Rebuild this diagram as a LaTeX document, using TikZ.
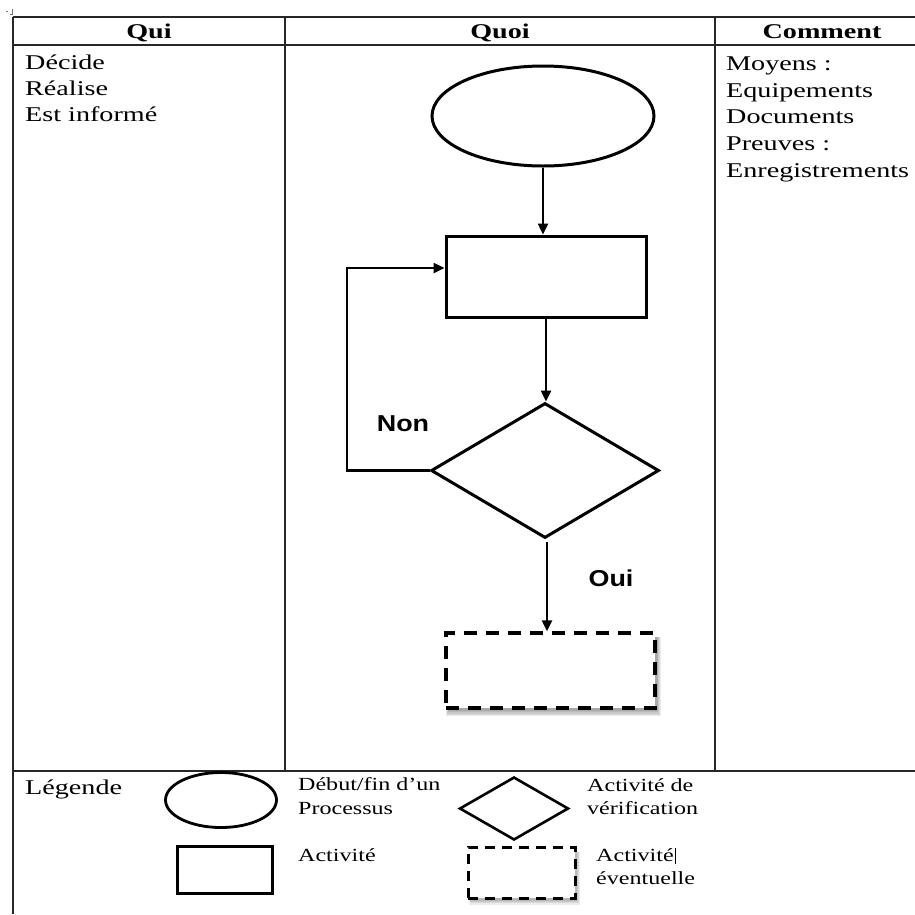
\documentclass[tikz,border=0pt]{standalone}
\usepackage{fontspec}
\usetikzlibrary{shapes.geometric,arrows.meta,calc,backgrounds}
\newfontfamily\cellfont[FakeStretch=1.34]{Liberation Serif}
\newfontfamily\legfont[FakeStretch=1.3]{Liberation Serif}
\newfontfamily\flowfont[FakeStretch=1.17]{Liberation Sans}
\begin{document}
\begin{tikzpicture}[x=1pt,y=-1pt,
  rule/.style={draw=black!85, line width=1.6pt},
  outline/.style={draw=black, line width=3pt, inner sep=0pt, fill=white},
  startend/.style={outline, ellipse},
  activity/.style={outline, rectangle},
  check/.style={outline, diamond},
  optional/.style={outline, rectangle, line width=3.5pt, dash pattern=on 13pt off 9pt},
  link/.style={draw=black, line width=2.4pt, -{Triangle[length=11pt,width=10pt]}},
  head/.style={inner sep=0pt, anchor=base, font=\cellfont\bfseries\fontsize{21}{24}\selectfont},
  cell/.style={inner sep=0pt, anchor=base west, font=\cellfont\fontsize{21}{24}\selectfont},
  legtext/.style={inner sep=0pt, anchor=base west, font=\legfont\fontsize{18.5}{22}\selectfont},
  answer/.style={inner sep=0pt, anchor=base, font=\flowfont\bfseries\fontsize{23}{26}\selectfont}
]
\useasboundingbox (0,0) rectangle (915,914);

% small handle mark in the corner
\draw[black!55, line width=0.8pt] (6,11) -- (8,11) (12,9) -- (12,14) -- (10,14);

% table rules
\draw[rule] (13,17) -- (915,17);
\draw[rule] (13,45) -- (915,45);
\draw[rule] (13,771) -- (915,771);
\draw[rule] (13,17) -- (13,914);
\draw[rule] (285,17) -- (285,771);
\draw[rule] (715,17) -- (715,771);

% column headers
\node[head] (hqui) at (149,38) {Qui};
\node[head] (hquoi) at (500,38) {Quoi};
\node[head] (hcomment) at (822,38) {Comment};

% left column
\node[cell] (decide) at (25,69) {Décide};
\node[cell] (realise) at (25,95) {Réalise};
\node[cell] (informe) at (25,121) {Est informé};

% right column
\node[cell] (moyens) at (726,70) {Moyens :};
\node[cell] (equip) at (726,97) {Equipements};
\node[cell] (docs) at (726,123) {Documents};
\node[cell] (preuves) at (726,150) {Preuves :};
\node[cell] (enreg) at (726,177) {Enregistrements};

% flow chart
\node[startend, minimum width=222pt, minimum height=100pt] (start) at (543,116) {};
\node[activity, minimum width=200pt, minimum height=81pt] (act) at (546,276.5) {};
\node[check, minimum width=228pt, minimum height=135pt] (verif) at (545,470.5) {};
\node[optional, minimum width=209pt, minimum height=75pt] (opt) at (550.5,670.5) {};
\begin{scope}[on background layer]
  \foreach \k in {1,...,5}
    \fill[black, opacity=0.08]
      ($(opt.south west)+(5-0.6*\k,1.3*\k)$) rectangle ($(opt.north east)+(0.8*\k,6)$);
\end{scope}

\draw[link] (start.south) -- (start.south |- act.north);
\draw[link] (act.south) -- (act.south |- verif.north);
\coordinate (loop) at (347,268);
\draw[link] (verif.west) -| (loop) -- (loop -| act.west);
\coordinate (yes) at (547,542);
\draw[link] (yes) -- (yes |- opt.north);

\node[answer] (non) at (403,431) {Non};
\node[answer] (oui) at (611,586) {Oui};

% legend
\node[cell] (legende) at (25,794) {Légende};
\node[startend, line width=2.8pt, minimum width=111pt, minimum height=55pt] (lstart) at (221,800) {};
\node[legtext] (lstartA) at (298,790) {Début/fin d’un};
\node[legtext] (lstartB) at (298,814) {Processus};
\node[activity, minimum width=95pt, minimum height=47pt] (lact) at (224.5,869.5) {};
\node[legtext] (lactA) at (298,861) {Activité};
\node[check, line width=2.6pt, minimum width=109pt, minimum height=63pt] (lverif) at (514,808.5) {};
\node[legtext] (lverifA) at (587,791) {Activité de};
\node[legtext] (lverifB) at (587,814) {vérification};
\node[optional, line width=3pt, dash pattern=on 10pt off 7pt, minimum width=107pt, minimum height=51pt] (lopt) at (521.5,872.5) {};
\begin{scope}[on background layer]
  \foreach \k in {1,...,4}
    \fill[black, opacity=0.08]
      ($(lopt.south west)+(5-0.6*\k,1.3*\k)$) rectangle ($(lopt.north east)+(0.8*\k,6)$);
\end{scope}
\node[legtext] (loptA) at (596,861) {Activité};
\node[legtext] (loptB) at (596,884) {éventuelle};
\draw[black, line width=0.7pt] (loptA.base east) ++(1,3) -- ++(0,-16);
\end{tikzpicture}
\end{document}
